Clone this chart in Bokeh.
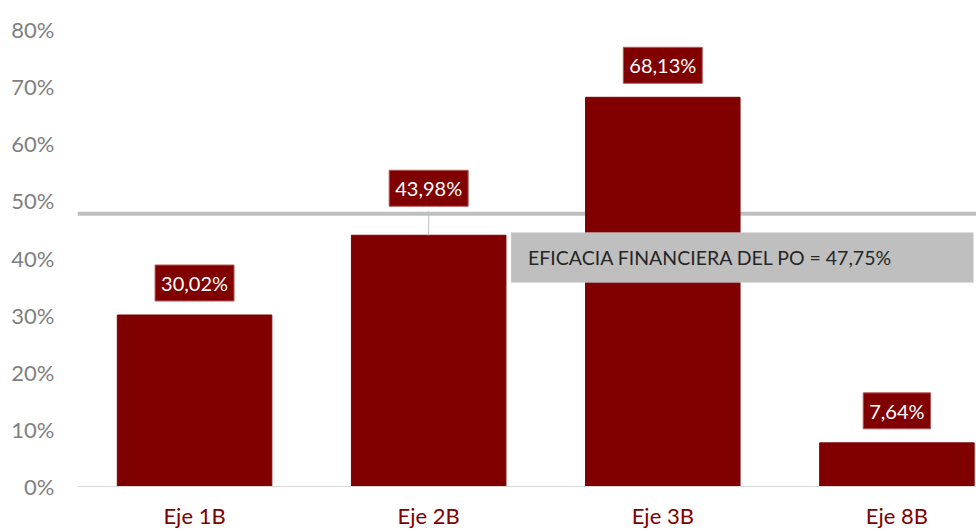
from bokeh.plotting import figure
from bokeh.models import Range1d, Span, Label, BoxAnnotation, ColumnDataSource, FixedTicker
from bokeh.core.properties import value
from bokeh.embed import file_html
from bokeh.resources import INLINE

categories = ["Eje 1B", "Eje 2B", "Eje 3B", "Eje 8B"]
values = [30.02, 43.98, 68.13, 7.64]
value_labels = ["30,02%", "43,98%", "68,13%", "7,64%"]
po_value = 47.75
po_text = "EFICACIA FINANCIERA DEL PO = 47,75%"
y_ticks = [0, 10, 20, 30, 40, 50, 60, 70, 80]
y_tick_labels = ["0%", "10%", "20%", "30%", "40%", "50%", "60%", "70%", "80%"]

FONT = "Lato"
BAR = "#800000"
idx = list(range(len(categories)))

# screen-pixel lift of each label box above its bar (layout only)
label_gap = [14, 29, 14, 14]

p = figure(width=976, height=531, output_backend="svg", toolbar_location=None,
           x_range=Range1d(-0.5, 3.34), y_range=Range1d(0, 80),
           min_border_left=77, min_border_right=0, min_border_top=29, min_border_bottom=45)
p.outline_line_color = None
p.background_fill_color = "white"
p.border_fill_color = "white"
p.xgrid.grid_line_color = None
p.ygrid.grid_line_color = None

src = ColumnDataSource(dict(x=idx, top=values, lab=value_labels,
                            yoff=[-g for g in label_gap]))
p.vbar(x="x", top="top", width=0.66, source=src, fill_color=BAR, line_color=BAR)

# reference line
p.add_layout(Span(location=po_value, dimension="width", line_color="#bfbfbf",
                  line_width=4, level="underlay"))

# leader from label 2B down to its bar
px_per_unit = 457 / 80.0
p.segment(x0=[idx[1]], x1=[idx[1]], y0=[values[1]],
          y1=[values[1] + (label_gap[1] - 5) / px_per_unit],
          line_color="#bfbfbf", line_width=1)

p.text(x="x", y="top", text="lab", source=src, y_offset="yoff",
       text_color="white", text_align="center", text_baseline="bottom",
       text_font=value(FONT), text_font_size="20px",
       background_fill_color=BAR, border_line_color="#b05a5a", padding=6)

# annotation box
box_left, box_right = 1.352, 3.327
box_top, box_bottom = 44.46, 35.7
p.add_layout(BoxAnnotation(left=box_left, right=box_right, top=box_top, bottom=box_bottom,
                           fill_color="#bfbfbf", fill_alpha=1.0, line_color="#d9d9d9",
                           line_width=1))
p.add_layout(Label(x=box_left, y=(box_top + box_bottom) / 2, x_offset=17, text=po_text,
                   text_baseline="middle", text_font=FONT, text_font_size="19.5px",
                   text_color="#262626"))

# axes
p.xaxis.ticker = FixedTicker(ticks=idx)
p.xaxis.major_label_overrides = {i: c for i, c in zip(idx, categories)}
p.xaxis.major_label_text_color = BAR
p.xaxis.major_label_text_font = FONT
p.xaxis.major_label_text_font_size = "22px"
p.xaxis.major_label_standoff = 9
p.xaxis.axis_line_color = "#d9d9d9"
p.xaxis.major_tick_line_color = None
p.xaxis.minor_tick_line_color = None

p.yaxis.ticker = FixedTicker(ticks=y_ticks)
p.yaxis.major_label_overrides = {t: l for t, l in zip(y_ticks, y_tick_labels)}
p.yaxis.major_label_text_color = "#7f7f7f"
p.yaxis.major_label_text_font = FONT
p.yaxis.major_label_text_font_size = "22px"
p.yaxis.major_label_standoff = 17
p.yaxis.axis_line_color = None
p.yaxis.major_tick_line_color = None
p.yaxis.minor_tick_line_color = None

open("out.html", "w").write(file_html(p, INLINE))
